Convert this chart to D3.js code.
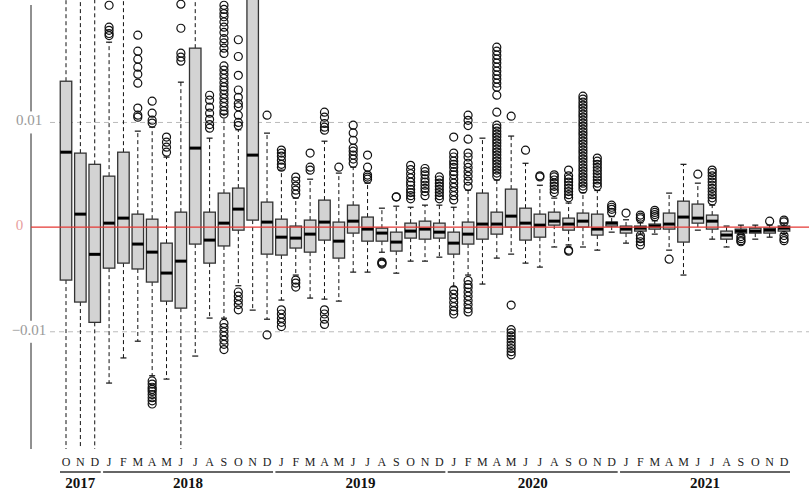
<!DOCTYPE html>
<html>
<head>
<meta charset="utf-8">
<script src="https://cdn.jsdelivr.net/npm/d3@7"></script>
<style>
  body { margin: 0; background: #fff; }
  svg { display: block; font-family: 'Liberation Serif', 'DejaVu Serif', serif; }
  .tick-label { font-size: 15px; fill: #999; }
  .month { font-size: 12px; fill: #222; }
  .year { font-size: 15px; font-weight: bold; fill: #111; }
</style>
</head>
<body>
<div id="chart"></div>
<script>
// monthly boxes from Oct 2017 to Dec 2021
const years = [2017, 2018, 2019, 2020, 2021];
const monthLetters = ['J', 'F', 'M', 'A', 'M', 'J', 'J', 'A', 'S', 'O', 'N', 'D'];
const firstMonth = 9; // October 2017

// box stats (whisker ends, quartiles, median)
const hi = [0.025, 0.025, 0.025, 0.01767, 0.025, 0.00917, 0.00955, 0.00669, 0.01385, 0.025, 0.0085, 0.0108,
  0.0093, 0.03, 0.00898,
  0.00545, 0.00277, 0.00458, 0.00821, 0.00516, 0.00573, 0.0042, 0.00181, 0.002, 0.0019, 0.0021, 0.0021,
  0.0019, 0.00353, 0.0085, 0.0045, 0.0087, 0.0061, 0.004, 0.00277, 0.0023, 0.0033, 0.0035, 0.001,
  0.0007, 0.0004, 0.0006, 0.00325, 0.006, 0.0042, 0.0021, 0.0001, 0.00019, 0.00019, 0.00019, 0.0004];
const q3 = [0.01394, 0.00707, 0.006, 0.00487, 0.00716, 0.00124, 0.00076, -0.00153, 0.00143, 0.0171, 0.00143, 0.00325,
  0.00373, 0.023, 0.00239,
  0.00076, 0.0001, 0.00067, 0.00258, 0.00048, 0.0021, 0.00096, -0.0001, -0.00048, 0.00038, 0.00057, 0.00038,
  -0.00048, 0.00048, 0.00325, 0.00143, 0.00363, 0.00181, 0.00124, 0.00143, 0.00086, 0.00134, 0.00124, 0.00048,
  0.0001, 0.0001, 0.00029, 0.00134, 0.00248, 0.0022, 0.00115, -0.00038, -0.00019, -0.0001, -0.0001, 0.0001];
const med = [0.00716, 0.00124, -0.0026, 0.00038, 0.00086, -0.00162, -0.00239, -0.00439, -0.00325, 0.00755, -0.00124, 0.00038,
  0.00172, 0.00688, 0.00048,
  -0.00096, -0.00105, -0.00067, 0.00048, -0.00134, 0.00057, -0.00019, -0.00057, -0.00143, -0.00038, -0.00019, -0.00048,
  -0.00153, -0.00067, 0.00029, 0.00029, 0.00105, 0.00038, 0.00019, 0.00057, 0.00029, 0.00057, -0.00019, 0.00038,
  -0.00019, -0.0001, 0.0001, 0.00029, 0.00096, 0.00086, 0.00057, -0.00076, -0.00038, -0.00038, -0.00029, -0.0001];
const q1 = [-0.00506, -0.00716, -0.0091, -0.00392, -0.00344, -0.004, -0.00525, -0.00707, -0.00774, -0.00162, -0.00344, -0.0018,
  -0.00029, 0.00067, -0.00258,
  -0.00267, -0.002, -0.00239, -0.00124, -0.00296, -0.00057, -0.00134, -0.00134, -0.00229, -0.00105, -0.00115, -0.00105,
  -0.00258, -0.00162, -0.00115, -0.00067, 0, -0.00124, -0.00096, 0.00019, -0.00029, 0, -0.00076, 0.0001,
  -0.00057, -0.00038, -0.00019, -0.00019, -0.00143, 0.00038, -0.00019, -0.00115, -0.00057, -0.00057, -0.00057, -0.00038];
const lo = [-0.025, -0.025, -0.025, -0.0149, -0.0125, -0.0109, -0.0142, -0.01452, -0.025, -0.01232, -0.00869, -0.0087,
  -0.0056, -0.00793, -0.0088,
  -0.00697, -0.00458, -0.00678, -0.00688, -0.00707, -0.0043, -0.0043, -0.0024, -0.0044, -0.00325, -0.00325, -0.00287,
  -0.0057, -0.00458, -0.00544, -0.00296, -0.00258, -0.00344, -0.00382, -0.0019, -0.0017, -0.0019, -0.0022, -0.00048,
  -0.00153, -0.00065, -0.00067, -0.0022, -0.00458, -0.00029, -0.00115, -0.0019, -0.0007, -0.00115, -0.00096, -0.0006];

// outliers per month
const outliers = [
  [], [], [],
  [0.0191, 0.0188, 0.0185, 0.0183, 0.0212],
  [],
  [0.01834, 0.01681, 0.01605, 0.01528, 0.01461, 0.01375, 0.01137, 0.0107, 0.0105],
  [0.01203, 0.01089, 0.01022, 0.00994, -0.0147, -0.015, -0.0153, -0.0155, -0.0157, -0.016, -0.0163, -0.0166, -0.0169],
  [0.0086, 0.00812, 0.00764, 0.00716],
  [0.01662, 0.01624, 0.01586, 0.019, 0.0213],
  [],
  [0.0126, 0.01213, 0.01146, 0.01089, 0.0103, 0.0098, 0.00945],
  [0.0212, 0.0208, 0.0204, 0.0201, 0.0196, 0.0191, 0.0186, 0.018, 0.0176, 0.0171, 0.0166, 0.0154, 0.015, 0.0146,
    0.0142, 0.0138, 0.0134, 0.0131, 0.0127, 0.0123, 0.0119, 0.0115, 0.0111, 0.0108,
    -0.0092, -0.0096, -0.01, -0.0104, -0.0108, -0.0112, -0.0117],
  [0.0179, 0.0163, 0.0145, 0.0131, 0.0124, 0.0118, 0.0115, 0.0107, 0.01, 0.0097, -0.0062, -0.0066, -0.007, -0.0074, -0.0079],
  [],
  [0.0107, -0.0103],
  [0.00736, 0.00707, 0.00678, 0.0064, 0.006, 0.00573, -0.0079, -0.0083, -0.0087, -0.0091, -0.0095],
  [0.00478, 0.0044, 0.00392, 0.00353, 0.00315, -0.00506, -0.00535, -0.00573],
  [0.00707, 0.00573, 0.00544],
  [0.01098, 0.0105, 0.0099, 0.00955, 0.00926, -0.0079, -0.0083, -0.0088, -0.0093],
  [0.00573],
  [0.00974, 0.009, 0.0083, 0.00755, 0.00726, 0.00688, 0.0065, 0.0061],
  [0.00688, 0.00573, 0.00497, 0.00478, 0.00458],
  [-0.00334, -0.00344, -0.00353],
  [0.00287, 0.0029],
  [0.0059, 0.0055, 0.0051, 0.0047, 0.0043, 0.004, 0.0036, 0.0033, 0.003, 0.0027],
  [0.0056, 0.0053, 0.005, 0.0046, 0.0043, 0.004, 0.0037, 0.0034, 0.003],
  [0.0048, 0.0045, 0.0042, 0.0039, 0.0036, 0.0033, 0.003, 0.0027],
  [0.0086, 0.00707, 0.0067, 0.0063, 0.006, 0.0057, 0.0053, 0.005, 0.0046, 0.0042, 0.0038, 0.0034, 0.003, 0.0026,
    -0.006, -0.0064, -0.0068, -0.0072, -0.0076, -0.008, -0.0083],
  [0.0107, 0.0102, 0.0097, 0.0084, 0.00707, 0.0067, 0.0061, 0.0057, 0.0053, 0.00487, 0.0044, 0.0039,
    -0.0051, -0.0055, -0.0058, -0.0062, -0.0066, -0.007, -0.0074, -0.0078, -0.0081],
  [],
  [0.01719, 0.01681, 0.01643, 0.01605, 0.01567, 0.01528, 0.0149, 0.01452, 0.01414, 0.01375, 0.01337, 0.01261, 0.01098,
    0.00974, 0.00946, 0.00917, 0.00888, 0.0086, 0.00831, 0.00803, 0.00774, 0.00745, 0.00717, 0.00688, 0.00659,
    0.00631, 0.00602, 0.00573, 0.00545, 0.00516, 0.00487],
  [0.0106, -0.00745, -0.0098, -0.0101, -0.0104, -0.0107, -0.011, -0.0113, -0.0116, -0.0119, -0.0122],
  [0.00735],
  [0.0048, 0.0049],
  [0.005, 0.0048, 0.0045, 0.0042, 0.0039, 0.0036, 0.0033],
  [0.00545, 0.0049, 0.0046, 0.0043, 0.004, 0.0037, 0.0034, 0.0031, 0.0028, -0.0022, -0.0023],
  [0.01251, 0.01223, 0.01194, 0.01165, 0.01137, 0.01108, 0.01079, 0.01051, 0.01022, 0.00993, 0.00965, 0.00936,
    0.00907, 0.00879, 0.0085, 0.00821, 0.00793, 0.00764, 0.00735, 0.00707, 0.00678, 0.0065, 0.00621, 0.00592,
    0.00563, 0.00535, 0.00506, 0.00478, 0.00449, 0.0042, 0.00392, 0.00363],
  [0.0066, 0.0063, 0.006, 0.0057, 0.0054, 0.0051, 0.0048, 0.0045, 0.0042, 0.0039],
  [0.0021, 0.0019, 0.0017, 0.0014],
  [0.00134],
  [0.00115, 0.00095, 0.0008, -0.0008, -0.0011, -0.0014, -0.0017],
  [0.001, 0.0012, 0.0014, 0.0016],
  [-0.00306],
  [],
  [0.00506],
  [0.00545, 0.0052, 0.0049, 0.0046, 0.0043, 0.004, 0.0037, 0.0034, 0.0031, 0.0028, 0.0025],
  [],
  [-0.0009, -0.0011, -0.0013, -0.0014],
  [],
  [0.00057],
  [0.00067, 0.0005, -0.0008, -0.0011, -0.0013]
];

const yTicks = [0.01, 0, -0.01];
const yTickLabels = ['0.01', '0', '\u22120.01'];

const W = 809, H = 497;
const plotTop = 0, plotBottom = 449;

// build month list
const months = [];
years.forEach(yr => {
  monthLetters.forEach((m, i) => {
    if (yr === years[0] && i < firstMonth) return;
    months.push({ key: yr + '-' + i, year: yr, letter: m });
  });
});
const data = months.map((m, i) => ({
  ...m, hi: hi[i], q3: q3[i], med: med[i], q1: q1[i], lo: lo[i], out: outliers[i]
}));

const svg = d3.select('#chart').append('svg')
  .attr('width', W)
  .attr('height', H);

const x = d3.scalePoint()
  .domain(months.map(d => d.key))
  .range([66, 784]);

const y = d3.scaleLinear()
  .domain([-0.0212, 0.0217])
  .range([plotBottom, plotTop]);

const boxW = 11.5;
const capW = 6;

svg.append('clipPath').attr('id', 'plot-clip')
  .append('rect')
  .attr('x', 0).attr('y', plotTop)
  .attr('width', W).attr('height', plotBottom - plotTop);

// grid lines
svg.selectAll('.grid')
  .data(yTicks.filter(d => d !== 0))
  .enter()
  .append('line')
  .attr('class', 'grid')
  .attr('x1', 50).attr('x2', W)
  .attr('y1', d => y(d)).attr('y2', d => y(d))
  .attr('stroke', '#bbb')
  .attr('stroke-dasharray', '5,4');

// left axis line
svg.append('line')
  .attr('x1', 31).attr('x2', 31)
  .attr('y1', 5).attr('y2', plotBottom)
  .attr('stroke', '#222')
  .attr('stroke-width', 1);

// tick labels with white backing
const labelX = [29, 19.5, 29];
const tl = svg.selectAll('.tick-g')
  .data(yTicks)
  .enter()
  .append('g')
  .attr('class', 'tick-g');
tl.filter(d => d !== 0).append('rect')
  .attr('x', (d, i) => 10)
  .attr('y', d => y(d) - 11)
  .attr('width', 38)
  .attr('height', 22)
  .attr('fill', '#fff');
tl.append('text')
  .attr('class', 'tick-label')
  .attr('x', (d, i) => labelX[i])
  .attr('y', d => y(d) + 3)
  .attr('text-anchor', 'middle')
  .style('fill', d => d === 0 ? '#e8a0a0' : '#999')
  .text((d, i) => yTickLabels[i]);

const marks = svg.append('g').attr('clip-path', 'url(#plot-clip)');

const box = marks.selectAll('.box')
  .data(data)
  .enter()
  .append('g')
  .attr('class', 'box')
  .attr('transform', d => 'translate(' + x(d.key) + ',0)');

// whiskers
box.append('line')
  .attr('y1', d => y(d.q3)).attr('y2', d => y(d.hi))
  .attr('stroke', '#111').attr('stroke-dasharray', '4,3');
box.append('line')
  .attr('y1', d => y(d.q1)).attr('y2', d => y(d.lo))
  .attr('stroke', '#111').attr('stroke-dasharray', '4,3');
box.append('line')
  .attr('x1', -capW / 2).attr('x2', capW / 2)
  .attr('y1', d => y(d.hi)).attr('y2', d => y(d.hi))
  .attr('stroke', '#111').attr('stroke-width', 1.2);
box.append('line')
  .attr('x1', -capW / 2).attr('x2', capW / 2)
  .attr('y1', d => y(d.lo)).attr('y2', d => y(d.lo))
  .attr('stroke', '#111').attr('stroke-width', 1.2);

// box body
box.append('rect')
  .attr('x', -boxW / 2)
  .attr('width', boxW)
  .attr('y', d => y(d.q3))
  .attr('height', d => Math.max(1, y(d.q1) - y(d.q3)))
  .attr('fill', '#d3d3d3')
  .attr('stroke', '#333')
  .attr('stroke-width', 1.3);

// median
box.append('line')
  .attr('x1', -boxW / 2).attr('x2', boxW / 2)
  .attr('y1', d => y(d.med)).attr('y2', d => y(d.med))
  .attr('stroke', '#000')
  .attr('stroke-width', 3);

// outliers
box.selectAll('circle')
  .data(d => d.out)
  .enter()
  .append('circle')
  .attr('cx', 0)
  .attr('cy', d => y(d))
  .attr('r', 4)
  .attr('fill', 'none')
  .attr('stroke', '#111')
  .attr('stroke-width', 1.2);

// zero line
svg.append('line')
  .attr('x1', 31).attr('x2', W)
  .attr('y1', y(0)).attr('y2', y(0))
  .attr('stroke', '#e53935')
  .attr('stroke-width', 1.3);

// month letters
svg.selectAll('.month')
  .data(data)
  .enter()
  .append('text')
  .attr('class', 'month')
  .attr('x', d => x(d.key))
  .attr('y', 466)
  .attr('text-anchor', 'middle')
  .text(d => d.letter);

// year groups
const yearGroups = years.map(yr => {
  const ms = data.filter(d => d.year === yr);
  return { year: yr, x0: x(ms[0].key), x1: x(ms[ms.length - 1].key) };
});
svg.selectAll('.year-line')
  .data(yearGroups)
  .enter()
  .append('line')
  .attr('x1', d => d.x0 - 6)
  .attr('x2', d => d.x1 + 6)
  .attr('y1', 472).attr('y2', 472)
  .attr('stroke', '#666')
  .attr('stroke-width', 2);
svg.selectAll('.year')
  .data(yearGroups)
  .enter()
  .append('text')
  .attr('class', 'year')
  .attr('x', d => (d.x0 + d.x1) / 2)
  .attr('y', 488)
  .attr('text-anchor', 'middle')
  .text(d => d.year);
</script>
</body>
</html>
